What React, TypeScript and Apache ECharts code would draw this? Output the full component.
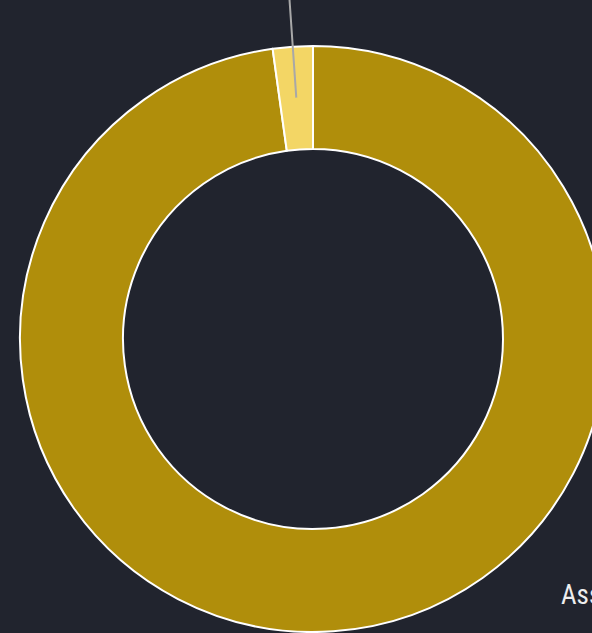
import React, { useEffect, useRef } from "react";
import * as echarts from "echarts";

const categories = ["Assigned", "Unassigned"];
const values = [97.8, 2.2];
const colors = ["#b08e0b", "#f3d665"];

export default function App() {
  const ref = useRef<HTMLDivElement>(null);
  useEffect(() => {
    if (!ref.current) return;
    const chart = echarts.init(ref.current, undefined, { renderer: "svg" });
    const fontFamily = "'Roboto Condensed', 'DejaVu Sans Condensed', 'Liberation Sans Narrow', Roboto, sans-serif";
    chart.setOption({
      animation: false,
      backgroundColor: "#21242e",
      series: [
        {
          type: "pie",
          center: [313, 339],
          radius: [190, 293],
          startAngle: 90,
          clockwise: true,
          avoidLabelOverlap: false,
          silent: true,
          itemStyle: { borderColor: "#ffffff", borderWidth: 2 },
          label: { show: false },
          labelLine: { show: false },
          data: categories.map((c, i) => ({
            name: c,
            value: values[i],
            itemStyle: { color: colors[i] },
          })),
          z: 2,
        },
        {
          type: "pie",
          center: [313, 339],
          radius: [0, 242],
          startAngle: 90,
          clockwise: true,
          avoidLabelOverlap: false,
          silent: true,
          itemStyle: { color: "rgba(0,0,0,0)", borderWidth: 0 },
          label: {
            show: true,
            position: "outside",
            color: "#eeeeee",
            fontSize: 27,
            fontFamily,
            formatter: "{b}",
            overflow: "none",
          },
          labelLine: {
            show: true,
            length: 135,
            length2: 10,
            lineStyle: { color: "#a8a8a8", width: 2 },
          },
          labelLayout: (p: any) =>
            p.dataIndex === 0
              ? { x: 561, y: 595, align: "left", verticalAlign: "middle" }
              : {},
          data: categories.map((c, i) => ({
            name: c,
            value: values[i],
            labelLine: { show: i === 1 },
          })),
          z: 3,
        },
      ],
    });
    return () => chart.dispose();
  }, []);
  return (
    <div
      ref={ref}
      style={{ position: "fixed", left: 0, top: 0, width: 592, height: 633 }}
    />
  );
}
